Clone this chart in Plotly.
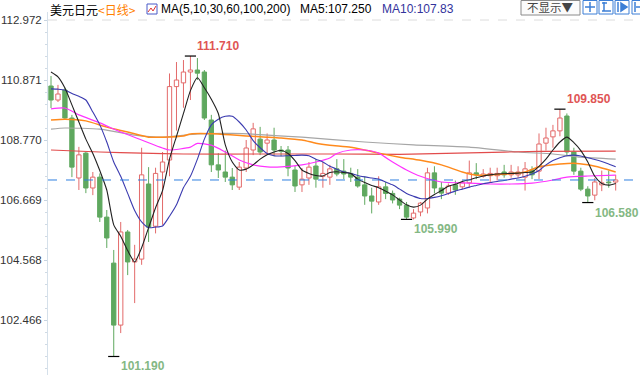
import plotly.graph_objects as go

# ---------------- data ----------------
idx = list(range(82))
open_ = [110.66,110.17,110.52,109.54,107.44,108.31,107.09,107.47,106.07,104.46,
         102.29,105.55,104.50,104.60,107.23,105.75,107.65,108.07,110.64,110.77,
         111.15,111.22,111.15,109.47,107.90,107.65,107.47,107.12,107.79,108.42,
         108.80,108.66,108.77,108.42,108.42,107.72,107.20,107.44,107.86,107.50,
         107.47,107.76,107.68,107.60,107.47,107.20,106.81,106.60,107.13,106.90,
         106.70,106.49,106.04,106.25,106.39,107.62,107.09,106.91,107.20,107.13,
         107.27,107.62,107.50,107.52,107.52,107.65,107.55,107.55,107.47,107.72,
         107.68,108.66,108.88,109.09,109.61,108.35,107.68,107.05,106.84,107.20,
         107.30,107.30]
high = [111.01,110.70,110.60,109.65,108.53,108.35,107.65,107.60,106.32,104.92,
        105.90,105.62,105.10,108.50,107.82,107.80,108.35,111.10,111.50,111.57,
        111.71,111.64,111.22,109.65,108.31,108.40,107.79,108.00,108.77,109.37,
        109.23,109.00,109.20,108.56,108.56,107.86,107.79,108.00,108.10,108.00,
        107.90,108.10,108.10,107.80,107.75,107.50,107.10,107.50,107.30,107.00,
        106.75,106.60,106.35,106.60,107.80,107.85,107.30,107.25,107.35,107.35,
        108.05,107.96,107.75,107.80,107.80,107.90,107.90,107.85,108.00,107.85,
        109.00,109.20,109.30,109.85,109.70,108.50,107.80,107.15,107.44,107.70,
        107.70,107.55]
low = [109.89,110.10,109.50,107.47,107.02,106.91,106.84,105.90,104.99,101.19,
       102.01,104.04,103.06,104.40,105.20,105.50,105.80,107.50,109.10,109.90,
       110.17,110.87,109.47,107.65,107.44,107.30,107.02,107.02,107.65,108.24,
       108.24,108.30,108.20,108.20,107.50,106.95,106.95,107.20,107.10,107.10,
       107.20,107.50,107.40,107.30,107.10,106.50,106.20,106.50,106.70,106.55,
       106.35,105.99,105.99,106.10,106.20,106.90,106.70,106.85,106.85,107.05,
       107.10,107.40,107.45,107.30,107.35,107.45,107.45,107.45,107.00,107.40,
       107.40,108.40,108.50,108.90,108.20,107.55,106.98,106.58,106.66,106.98,
       107.10,107.00]
close = [110.17,110.38,109.54,107.82,108.25,107.09,107.47,106.07,105.34,102.29,
         105.55,104.50,104.60,107.55,105.72,107.60,108.00,110.64,110.87,111.15,
         111.22,111.11,109.54,107.90,107.72,107.47,107.20,107.82,108.49,109.16,
         108.35,108.77,108.42,108.38,107.79,107.16,107.40,107.82,107.40,107.60,
         107.76,107.58,107.58,107.47,107.16,106.81,106.63,107.13,106.90,106.67,
         106.49,106.07,106.21,106.56,107.62,107.09,106.91,107.16,107.02,107.27,
         107.62,107.55,107.58,107.60,107.60,107.55,107.65,107.65,107.76,107.55,
         108.63,108.84,109.09,109.54,108.35,107.68,107.05,106.81,107.30,107.27,
         107.27,107.37]

ma5 = [111.15,110.98,110.59,110.00,109.40,108.80,108.30,107.70,107.02,105.80,
       105.40,104.90,104.50,105.00,105.70,106.40,107.00,108.10,108.90,109.70,
       110.50,110.95,110.60,110.20,109.70,108.60,108.00,107.72,107.75,107.90,
       108.10,108.25,108.35,108.40,108.30,108.05,107.72,107.60,107.53,107.51,
       107.63,107.66,107.63,107.60,107.40,107.28,107.18,107.10,106.98,106.85,
       106.67,106.50,106.42,106.49,106.70,106.86,107.00,107.15,107.22,107.32,
       107.38,107.45,107.51,107.55,107.58,107.59,107.60,107.61,107.63,107.65,
       107.85,108.10,108.42,108.70,108.87,108.68,108.40,108.00,107.50,107.25,
       107.19,107.25]
ma10 = [110.56,110.55,110.52,110.40,110.30,110.17,109.75,109.30,108.70,108.00,
        107.50,106.90,106.30,105.90,105.70,105.72,105.76,106.10,106.50,107.10,
        107.50,108.10,108.80,109.30,109.50,109.60,109.60,109.40,109.12,108.75,
        108.50,108.30,108.22,108.21,108.22,108.23,108.24,108.22,108.10,108.00,
        107.85,107.75,107.66,107.60,107.53,107.48,107.44,107.40,107.30,107.20,
        107.05,106.90,106.80,106.72,106.72,106.76,106.82,106.90,106.98,107.05,
        107.12,107.18,107.24,107.28,107.32,107.35,107.40,107.44,107.50,107.58,
        107.70,107.90,108.05,108.15,108.22,108.24,108.21,108.15,108.09,108.02,
        107.93,107.83]
ma30_idx = [0,2,4,7,10,13,16,17,20,21,23,25,27,29,31,33,36,38,40,41,43,45,47,49,51,53,56,60,63,66,69,72,74,77,81]
ma30_val = [109.86,109.89,109.65,109.37,109.05,108.77,108.49,108.42,108.52,108.65,108.59,108.35,108.07,107.90,
            107.83,107.83,107.90,108.00,108.14,108.30,108.42,108.42,108.31,108.00,107.72,107.50,107.30,107.26,
            107.23,107.23,107.26,107.37,107.47,107.51,107.54]
ma60_idx = [0,2,5,8,11,14,16,19,20,24,28,31,33,36,38,40,43,45,47,50,53,56,59,61,64,68,70,73,75,77,79,81]
ma60_val = [109.47,109.50,109.44,109.22,109.05,108.87,108.87,108.91,108.98,108.98,108.91,108.87,108.84,108.77,
            108.66,108.59,108.52,108.42,108.31,108.17,108.06,107.90,107.65,107.54,107.56,107.65,107.83,107.93,
            107.96,107.90,107.79,107.65]
ma100_idx = [0,7,13,19,30,40,50,60,70,81]
ma100_val = [108.42,108.35,108.31,108.28,108.28,108.28,108.27,108.32,108.37,108.38]
ma200_idx = [0,2,7,12,16,21,26,36,45,52,60,67,72,76,81]
ma200_val = [109.15,109.19,109.15,108.94,108.87,108.98,109.00,108.87,108.70,108.60,108.52,108.35,108.28,108.17,108.10]

tick_vals = [112.972, 110.871, 108.770, 106.669, 104.568, 102.466]
tick_text = ["112.972", "110.871", "108.770", "106.669", "104.568", "102.466"]

# extremes labelled on the chart: (index, value, kind)
extremes = [(20, 111.710, "high"), (9, 101.190, "low"), (51, 105.990, "low"),
            (73, 109.850, "high"), (77, 106.580, "low")]

# ---------------- figure ----------------
FONT = "Liberation Sans, Arial, Noto Sans CJK SC, sans-serif"
RED = "#e36a6a"
GREEN = "#5fa85f"

up = [c >= o for o, c in zip(open_, close)]
body_base = [min(o, c) for o, c in zip(open_, close)]
body_h = [abs(c - o) for o, c in zip(open_, close)]
body_fill = ["white" if u else GREEN for u in up]
body_line = [RED if u else GREEN for u in up]

fig = go.Figure()

# wicks (upper and lower parts, so hollow bodies stay clean)
for want_up, col in [(True, RED), (False, GREEN)]:
    wx, wy = [], []
    for i in idx:
        if up[i] != want_up:
            continue
        top = max(open_[i], close[i])
        bot = min(open_[i], close[i])
        wx += [i, i, None, i, i, None]
        wy += [high[i], top, None, bot, low[i], None]
    fig.add_trace(go.Scatter(x=wx, y=wy, mode="lines", line=dict(color=col, width=1),
                             hoverinfo="skip", connectgaps=False))

# bodies
fig.add_trace(go.Bar(x=idx, y=body_h, base=body_base, width=0.62,
                     marker=dict(color=body_fill, line=dict(color=body_line, width=1)),
                     hoverinfo="skip"))

ma_specs = [
    (ma200_idx, ma200_val, "#a6a6a6", 1.2),
    (ma100_idx, ma100_val, "#e24c4c", 1.2),
    (ma60_idx, ma60_val, "#ff8a1c", 1.5),
    (ma30_idx, ma30_val, "#ff33ff", 1.2),
    (idx, ma10, "#3b3bb0", 1.1),
    (idx, ma5, "#222222", 1.1),
]
for xs, ys, col, w in ma_specs:
    fig.add_trace(go.Scatter(x=xs, y=ys, mode="lines",
                             line=dict(color=col, width=w, shape="spline", smoothing=0.6),
                             hoverinfo="skip"))

# markers at extremes
fig.add_trace(go.Scatter(x=[e[0] for e in extremes], y=[e[1] for e in extremes],
                         mode="markers",
                         marker=dict(symbol="line-ew", size=8,
                                     line=dict(color="black", width=1.2)),
                         hoverinfo="skip"))

annotations = []
for i, v, kind in extremes:
    annotations.append(dict(
        x=i, y=v, xref="x", yref="y", text="<b>%.3f</b>" % v, showarrow=False,
        xanchor="left", yanchor="bottom" if kind == "high" else "top",
        xshift=5, yshift=1 if kind == "high" else -1,
        font=dict(family=FONT, size=12, color="#e05555" if kind == "high" else "#84b884")))

# pixel -> paper helpers (plot area: x 48..635, y 12..375)
def px(xp):
    return (xp - 48) / 587.0

def py(yp):
    return (375 - yp) / 363.0

hdr_y = py(9)
annotations += [
    dict(x=px(48), y=hdr_y, xref="paper", yref="paper", xanchor="left", yanchor="middle",
         showarrow=False, text="美元日元<span style='color:#ff8000'>&lt;日线&gt;</span>",
         font=dict(family="Noto Sans CJK SC, sans-serif", size=12, color="#000")),
    dict(x=px(159), y=hdr_y, xref="paper", yref="paper", xanchor="left", yanchor="middle",
         showarrow=False, text="MA(5,10,30,60,100,200)",
         font=dict(family=FONT, size=12, color="#000")),
    dict(x=px(298), y=hdr_y, xref="paper", yref="paper", xanchor="left", yanchor="middle",
         showarrow=False, text="MA5:107.250",
         font=dict(family=FONT, size=12, color="#000")),
    dict(x=px(380), y=hdr_y, xref="paper", yref="paper", xanchor="left", yanchor="middle",
         showarrow=False, text="MA10:107.83",
         font=dict(family=FONT, size=12, color="#33339c")),
    dict(x=px(550.5), y=py(7.5), xref="paper", yref="paper", xanchor="center", yanchor="middle",
         showarrow=False, text="不显示▼",
         font=dict(family="Noto Sans CJK SC, sans-serif", size=11.5, color="#444")),
]

shapes = [
    dict(type="line", xref="paper", yref="y", x0=0, x1=1, y0=tick_vals[0], y1=tick_vals[0],
         line=dict(color="#dcdcdc", width=1, dash="dash")),
    dict(type="line", xref="paper", yref="y", x0=0, x1=1, y0=close[-1], y1=close[-1],
         line=dict(color="#2f7fe0", width=1, dash="dash")),
    dict(type="rect", xref="paper", yref="paper", x0=px(147), x1=px(157), y0=py(14), y1=py(4),
         line=dict(color="#4a5ac8", width=1), fillcolor="white"),
    dict(type="path", xref="paper", yref="paper",
         path="M %f,%f L %f,%f L %f,%f L %f,%f" % (px(148), py(12), px(151), py(8),
                                                  px(153), py(11), px(156), py(6)),
         line=dict(color="#e03030", width=1)),
    dict(type="rect", xref="paper", yref="paper", x0=px(521), x1=px(580), y0=py(15), y1=py(0.5),
         line=dict(color="#8a8a8a", width=1), fillcolor="#fbfbfb"),
]
icon_x = [583, 599, 615, 632]
glyphs = [
    lambda x: "M %f,%f L %f,%f M %f,%f L %f,%f" % (px(x + 7), py(2), px(x + 7), py(12),
                                                   px(x + 2), py(7), px(x + 12), py(7)),
    lambda x: "M %f,%f L %f,%f M %f,%f L %f,%f M %f,%f L %f,%f" % (
        px(x + 5), py(2), px(x + 5), py(11), px(x + 3), py(3), px(x + 8), py(3),
        px(x + 3), py(11), px(x + 12), py(11)),
    lambda x: "M %f,%f L %f,%f M %f,%f L %f,%f L %f,%f Z" % (
        px(x + 3), py(2), px(x + 3), py(12), px(x + 6), py(3), px(x + 12), py(7),
        px(x + 6), py(11)),
    lambda x: "M %f,%f L %f,%f M %f,%f L %f,%f" % (px(x + 3), py(2), px(x + 3), py(12),
                                                   px(x + 4), py(7), px(x + 12), py(7)),
]
for x0, g in zip(icon_x, glyphs):
    shapes.append(dict(type="rect", xref="paper", yref="paper", x0=px(x0), x1=px(x0 + 14),
                       y0=py(14), y1=py(0.5), line=dict(color="#3d7fd6", width=1),
                       fillcolor="white"))
    shapes.append(dict(type="path", xref="paper", yref="paper", path=g(x0),
                       line=dict(color="#3d7fd6", width=1.5), fillcolor="#3d7fd6"))

fig.update_layout(
    width=640, height=375,
    margin=dict(l=48, r=5, t=12, b=0, autoexpand=False),
    paper_bgcolor="white", plot_bgcolor="white",
    showlegend=False, hovermode=False, barmode="overlay",
    annotations=annotations, shapes=shapes,
    xaxis=dict(range=[-0.43, 83.77], visible=False, fixedrange=True),
    yaxis=dict(range=[100.542, 113.252], tickvals=tick_vals, ticktext=tick_text,
               automargin=False,
               showgrid=False, zeroline=False, showline=True, linecolor="#d5e0ea",
               ticks="outside", ticklen=3, tickcolor="#c8d4e0",
               tickfont=dict(family=FONT, size=11.5, color="#333"),
               minor=dict(ticks="outside", ticklen=2, tickcolor="#d0dae4",
                          tick0=tick_vals[-1], dtick=0.4202),
               fixedrange=True),
)

fig.write_html("out.html", config={"displayModeBar": False},
               post_script="document.body.style.margin='0';document.body.style.overflow='hidden';")
